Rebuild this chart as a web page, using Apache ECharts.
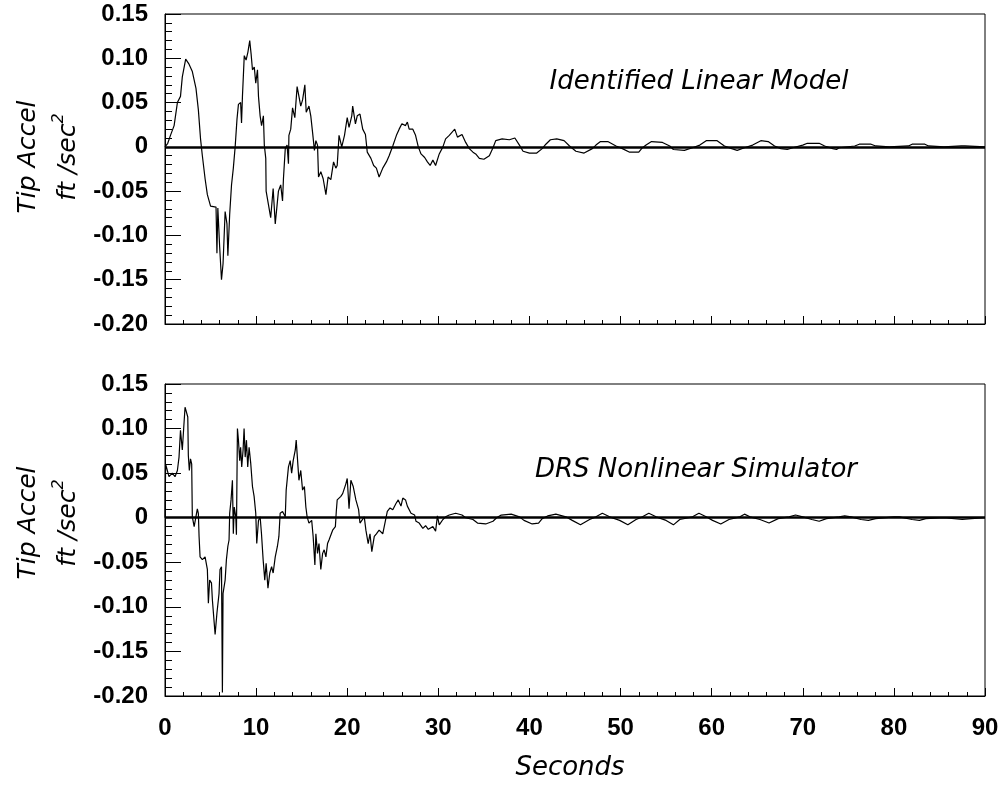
<!DOCTYPE html>
<html>
<head>
<meta charset="utf-8">
<script src="https://cdn.jsdelivr.net/npm/echarts@6/dist/echarts.min.js"></script>
<style>
  html, body { margin: 0; padding: 0; background: #fff; }
  #chart { width: 1005px; height: 787px; }
</style>
</head>
<body>
<div id="chart"></div>
<script>
// ---- data (seconds, ft/sec^2) ----
const linearT = [0,0.3,0.6,1.0,1.36,1.7,1.9,2.27,2.6,3.0,3.4,3.66,3.9,4.1,4.4,4.65,5.0,5.6,5.7,5.8,6.0,6.2,6.37,6.6,6.8,6.9,7.1,7.3,7.5,7.7,7.9,8.06,8.3,8.4,8.5,8.7,8.9,9.1,9.3,9.45,9.6,9.8,9.96,10.15,10.26,10.44,10.6,10.8,10.9,11.06,11.1,11.35,11.6,11.87,12.1,12.3,12.45,12.7,12.9,13.0,13.2,13.4,13.55,13.6,13.8,14.0,14.25,14.36,14.5,14.7,14.9,15.1,15.35,15.5,15.8,16.0,16.2,16.4,16.56,16.74,16.85,17.1,17.36,17.66,17.9,18.2,18.5,18.75,18.9,19.1,19.4,19.7,20.0,20.2,20.5,20.6,20.9,21.1,21.4,21.7,22.0,22.2,22.6,22.9,23.2,23.5,23.9,24.3,24.6,25.0,25.4,25.7,26.0,26.4,26.6,26.8,27.2,27.5,27.8,28.1,28.5,28.8,29.1,29.4,29.7,30.1,30.5,30.8,31.2,31.8,32.1,32.6,33.0,33.4,33.8,34.1,34.5,35.0,35.6,36.0,36.3,37.0,37.8,38.4,38.9,39.3,40.0,40.8,41.4,41.8,42.3,43.0,43.8,44.4,45.1,46.0,46.9,47.3,47.8,48.6,49.5,50.2,51.0,52.0,52.4,52.8,53.4,54.6,55.4,55.8,57.0,57.9,58.7,59.4,60.6,61.4,62.2,62.8,63.6,64.5,65.4,66.2,66.9,67.6,68.3,68.9,70.0,70.5,71.8,72.4,73.3,73.7,74.0,75.7,76.2,77.5,78.0,79.5,81.6,82.0,83.4,83.8,85.5,87.4,87.6,87.8,90];
const linearV = [0,0.004,0.013,0.024,0.05,0.057,0.079,0.099,0.094,0.085,0.066,0.042,0.009,-0.01,-0.036,-0.054,-0.067,-0.068,-0.12,-0.069,-0.113,-0.15,-0.132,-0.073,-0.087,-0.123,-0.076,-0.043,-0.024,0,0.031,0.048,0.05,0.027,0.057,0.103,0.098,0.107,0.12,0.105,0.087,0.09,0.072,0.087,0.057,0.035,0.024,0.035,0.002,-0.013,-0.05,-0.065,-0.08,-0.047,-0.087,-0.087,-0.05,-0.043,-0.061,-0.036,-0.002,0.002,-0.019,0.013,0.02,0.044,0.033,0.035,0.068,0.07,0.046,0.053,0.07,0.039,0.046,0.035,0.016,-0.004,0.007,0.002,-0.034,-0.028,-0.036,-0.054,-0.034,-0.037,-0.017,-0.024,-0.021,0.013,0,0.013,0.033,0.022,0.035,0.046,0.026,0.035,0.037,0.02,0.014,-0.006,-0.013,-0.021,-0.024,-0.034,-0.024,-0.017,-0.01,0.001,0.013,0.02,0.026,0.024,0.028,0.02,0.02,0.013,0,-0.008,-0.012,-0.017,-0.021,-0.015,-0.021,-0.008,0,0.009,0.013,0.02,0.011,0.014,0.005,-0.002,-0.006,-0.008,-0.013,-0.014,-0.01,-0.001,0.007,0.009,0.008,0.01,0.002,-0.005,-0.007,-0.007,-0.002,0.003,0.008,0.009,0.007,0.001,-0.005,-0.007,-0.002,0.002,0.006,0.006,0.001,-0.002,-0.006,-0.006,-0.001,0.002,0.006,0.005,0.001,-0.003,-0.004,-0.001,0.002,0.007,0.007,0.001,-0.002,-0.004,-0.001,0.002,0.007,0.006,0.001,-0.002,-0.003,-0.001,0.002,0.004,0.004,0.001,-0.002,-0.003,-0.001,0.001,0.003,0.003,0.001,0,0.001,0.003,0.003,0.001,0,0.001,0.003,0.001,0];

const simT = [0,0.07,0.44,0.8,1.1,1.36,1.54,1.7,1.9,2.05,2.2,2.4,2.5,2.56,2.67,2.8,2.93,3.0,3.2,3.37,3.55,3.66,3.74,3.85,4.1,4.4,4.65,4.76,4.9,5.1,5.2,5.4,5.5,5.7,5.93,6.04,6.2,6.3,6.37,6.6,6.74,6.9,7.03,7.1,7.25,7.4,7.5,7.6,7.77,7.84,7.95,8.06,8.2,8.3,8.42,8.57,8.68,8.8,8.94,9.08,9.23,9.41,9.6,9.78,9.96,10.07,10.26,10.44,10.59,10.77,10.95,11.1,11.3,11.5,11.7,11.87,12.1,12.34,12.5,12.64,12.9,13.2,13.3,13.55,13.74,13.9,14.07,14.3,14.4,14.6,14.7,14.9,15.1,15.3,15.46,15.6,15.8,16.1,16.26,16.45,16.56,16.74,16.9,17.1,17.3,17.47,17.66,17.84,18.0,18.4,18.7,18.8,18.9,19.3,19.5,19.85,20.0,20.2,20.4,20.66,20.95,21.25,21.4,21.6,21.87,22.05,22.3,22.5,22.7,22.97,23.2,23.5,23.9,24.2,24.4,24.7,25.0,25.35,25.6,25.9,26.1,26.4,26.6,27.0,27.4,27.55,27.9,28.3,28.6,28.9,29.4,29.7,29.9,30.1,30.5,30.8,31.2,31.9,32.6,33.0,33.8,34.3,35.2,36.0,36.4,36.9,38.0,38.9,39.4,40.3,41.0,41.4,42.0,42.9,44.0,44.7,45.6,46.6,47.3,48.0,48.8,49.9,50.8,51.7,52.4,53.1,53.9,55.0,55.8,56.5,57.9,58.6,59.4,60.1,61.0,61.9,63.1,63.6,64.2,65.3,66.3,67.3,68.5,69.2,70.0,71.0,71.8,72.6,74.0,74.6,75.3,76.4,77.2,78.0,80.0,80.6,82.0,82.8,83.5,85.5,87.5,88.5,90];
const simV = [0,0.06,0.046,0.05,0.046,0.053,0.068,0.098,0.076,0.1,0.124,0.126,0.113,0.07,0.053,0.066,0.06,0.001,-0.01,-0.012,0.01,0.005,-0.021,-0.044,-0.047,-0.044,-0.058,-0.096,-0.07,-0.073,-0.092,-0.118,-0.131,-0.107,-0.085,-0.058,-0.055,-0.196,-0.085,-0.07,-0.047,-0.032,-0.025,0.005,0.02,0.042,-0.018,0.012,0.001,-0.019,0.1,0.087,0.064,0.079,0.057,0.076,0.1,0.068,0.087,0.057,0.079,0.061,0.035,0.024,0.005,-0.029,-0.003,0.001,-0.018,-0.047,-0.07,-0.051,-0.079,-0.062,-0.055,-0.062,-0.044,-0.032,-0.021,0.005,0.007,0.001,0.031,0.057,0.064,0.05,0.064,0.076,0.087,0.057,0.042,0.053,0.031,0.035,0.012,0.001,-0.006,-0.003,-0.021,-0.053,-0.018,-0.04,-0.029,-0.058,-0.04,-0.036,-0.044,-0.029,-0.025,-0.014,-0.01,0.007,0.02,0.024,0.027,0.038,0.044,0.01,0.042,0.035,0.02,0.009,-0.006,-0.006,0.001,-0.014,-0.029,-0.018,-0.038,-0.021,-0.018,-0.014,-0.018,-0.003,0.007,0.011,0.009,0.016,0.02,0.013,0.022,0.02,0.013,0.005,0.003,-0.004,-0.006,-0.012,-0.009,-0.013,-0.01,-0.015,0.002,-0.008,-0.002,0.001,0.003,0.005,0.003,0,-0.002,-0.006,-0.007,-0.004,0,0.003,0.004,0.001,-0.003,-0.007,-0.006,-0.001,0.002,0.004,0.001,-0.003,-0.008,-0.002,0.001,0.005,0.001,-0.003,-0.008,-0.002,0.001,0.005,0.001,-0.003,-0.008,-0.002,0.001,0.005,0.001,-0.003,-0.007,-0.002,0.001,0.004,0.001,-0.002,-0.006,-0.001,0.001,0.003,0.001,-0.002,-0.004,-0.001,0.001,0.002,0.001,-0.002,-0.003,-0.001,0.001,0.001,-0.002,-0.003,-0.001,0,-0.002,-0.001,0];

const yTicks = [-0.2, 0.15, 0.05];   // min, max, interval
const xTicks = [0, 90, 10];
const panelTitles = ['Identified Linear Model', 'DRS Nonlinear Simulator'];

function zip(t, v) {
  return t.map((x, i) => [x, v[i]]);
}

const chart = echarts.init(document.getElementById('chart'));

const tickFont = { color: '#000', fontFamily: 'Liberation Sans', fontWeight: 'bold', fontSize: 24 };
const italic = '"DejaVu Sans"';

function makeX(idx, showLabel) {
  return {
    type: 'value', gridIndex: idx,
    min: xTicks[0], max: xTicks[1], interval: xTicks[2],
    axisLine: { show: true, onZero: false, lineStyle: { color: '#000', width: 1 } },
    axisTick: { show: true, inside: true, length: 8, lineStyle: { color: '#000' } },
    minorTick: { show: true, splitNumber: 5, length: 4, lineStyle: { color: '#000' } },
    splitLine: { show: false },
    axisLabel: Object.assign({ show: showLabel, margin: 20 }, tickFont)
  };
}

function makeY(idx) {
  return {
    type: 'value', gridIndex: idx,
    min: yTicks[0], max: yTicks[1], interval: yTicks[2],
    axisLine: { show: true, lineStyle: { color: '#000', width: 1 } },
    axisTick: { show: true, inside: true, length: 16, lineStyle: { color: '#000' } },
    minorTick: { show: true, splitNumber: 5, length: 7, lineStyle: { color: '#000' } },
    splitLine: { show: false },
    axisLabel: Object.assign({
      margin: 17,
      formatter: v => Math.abs(v) < 1e-9 ? '0' : v.toFixed(2)
    }, tickFont)
  };
}

function makeSeries(idx, data) {
  return {
    type: 'line', xAxisIndex: idx, yAxisIndex: idx,
    data: data, showSymbol: false, animation: false,
    lineStyle: { color: '#000', width: 1.2 },
    // 零线
    markLine: {
      silent: true, symbol: ['none', 'none'], label: { show: false },
      lineStyle: { color: '#000', width: 2.5, type: 'solid' },
      data: [{ yAxis: 0 }]
    }
  };
}

// y axis name, two lines, rotated
function yName(cy) {
  return [
    {
      type: 'text', x: 28, y: cy, rotation: Math.PI / 2,
      style: { text: 'Tip Accel', font: 'italic 25px ' + italic, fill: '#000',
               textAlign: 'center', textVerticalAlign: 'middle' }
    },
    {
      type: 'text', x: 66, y: cy, rotation: Math.PI / 2,
      style: {
        text: '{a|ft /sec}{b|2}', fill: '#000',
        textAlign: 'center', textVerticalAlign: 'middle',
        rich: {
          a: { fontStyle: 'italic', fontSize: 25, fontFamily: italic, lineHeight: 30, verticalAlign: 'bottom' },
          b: { fontStyle: 'italic', fontSize: 16, fontFamily: italic, lineHeight: 30, verticalAlign: 'top' }
        }
      }
    }
  ];
}

const option = {
  backgroundColor: '#fff',
  animation: false,
  grid: [
    { left: 165, right: 20, top: 14, height: 310, show: true, borderColor: '#000', borderWidth: 1 },
    { left: 165, right: 20, top: 384, height: 312, show: true, borderColor: '#000', borderWidth: 1 }
  ],
  xAxis: [makeX(0, false), makeX(1, true)],
  yAxis: [makeY(0), makeY(1)],
  series: [makeSeries(0, zip(linearT, linearV)), makeSeries(1, zip(simT, simV))],
  graphic: [].concat(
    yName(157),
    yName(523),
    [
      { type: 'text', x: 699, y: 82,
        style: { text: panelTitles[0], font: 'italic 26px ' + italic, fill: '#000',
                 textAlign: 'center', textVerticalAlign: 'middle' } },
      { type: 'text', x: 696, y: 470,
        style: { text: panelTitles[1], font: 'italic 26px ' + italic, fill: '#000',
                 textAlign: 'center', textVerticalAlign: 'middle' } },
      { type: 'text', x: 570, y: 768,
        style: { text: 'Seconds', font: 'italic 26px ' + italic, fill: '#000',
                 textAlign: 'center', textVerticalAlign: 'middle' } }
    ]
  )
};

chart.setOption(option);
</script>
</body>
</html>
